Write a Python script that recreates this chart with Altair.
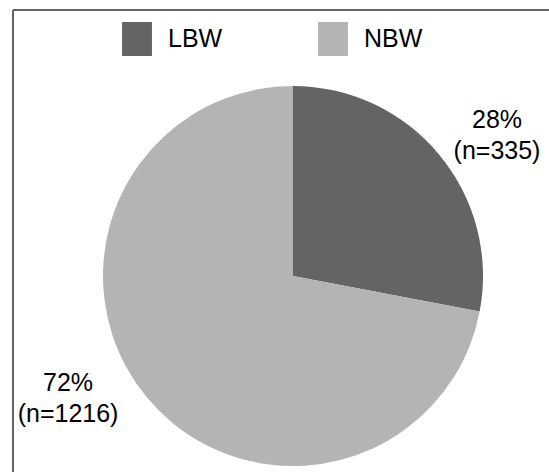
import altair as alt
import pandas as pd

categories = ["LBW", "NBW"]
percents = [28, 72]
counts = [335, 1216]
colors = ["#646464", "#b4b4b4"]

df = pd.DataFrame({
    "group": categories,
    "pct": percents,
    "n": counts,
    "order": [0, 1],
})
df["label"] = [f"{p}%\n(n={n})" for p, n in zip(percents, counts)]

FONT = "Liberation Sans"
CX, CY = 293, 276  # pie centre
W, H = 549, 472

color = alt.Color(
    "group:N",
    scale=alt.Scale(domain=categories, range=colors),
    legend=alt.Legend(
        title=None,
        orient="none",
        legendX=120,
        legendY=22,
        direction="horizontal",
        columns=2,
        symbolType="M-0.88,-1H0.88V1H-0.88Z",
        symbolSize=1156,
        symbolStrokeWidth=0,
        labelFontSize=25,
        labelFont=FONT,
        labelColor="black",
        labelOffset=14,
        columnPadding=93,
        padding=0,
    ),
)

theta_scale = alt.Scale(domain=[0, sum(percents)])

arcs = alt.Chart(df).mark_arc(outerRadius=190, stroke=None).encode(
    theta=alt.Theta("pct:Q", stack=True, scale=theta_scale),
    order=alt.Order("order:Q"),
    color=color,
    x=alt.value(CX),
    y=alt.value(CY),
)

stacked = (
    alt.Chart(df)
    .transform_stack(stack="pct", groupby=[], as_=["s0", "s1"], sort=[alt.SortField("order")])
    .transform_calculate(mid="(datum.s0 + datum.s1) / 2")
)


def label_layer(name, radius, dx, dy):
    return stacked.transform_filter(alt.datum.group == name).mark_text(
        radius=radius, fontSize=25, font=FONT, lineBreak="\n", lineHeight=31,
        color="black", dx=dx, dy=dy,
    ).encode(
        theta=alt.Theta("mid:Q", stack=None, scale=theta_scale),
        text="label:N",
        x=alt.value(CX),
        y=alt.value(CY),
    )


lab_lbw = label_layer("LBW", 257, 6, 8)
lab_nbw = label_layer("NBW", 253, -30, -54)

frame_left = alt.Chart(df).mark_rule(stroke="#5a5a5a", strokeWidth=1.5).encode(
    x=alt.value(13), y=alt.value(10), y2=alt.value(H)
)
frame_top = alt.Chart(df).mark_rule(stroke="#5a5a5a", strokeWidth=1.5).encode(
    x=alt.value(13), x2=alt.value(W), y=alt.value(10)
)

chart = (
    alt.layer(frame_left, frame_top, arcs, lab_lbw, lab_nbw)
    .properties(
        width=W,
        height=H,
        padding=0,
        autosize=alt.AutoSizeParams(type="none"),
        background="white",
    )
    .configure_view(stroke=None)
)

chart.save("out.html", embed_options={"renderer": "svg", "actions": False})
